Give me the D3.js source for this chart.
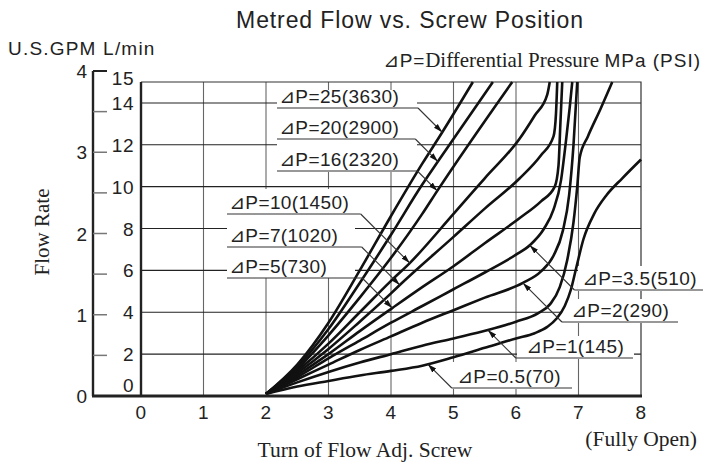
<!DOCTYPE html>
<html>
<head>
<meta charset="utf-8">
<script src="https://cdn.jsdelivr.net/npm/d3@7"></script>
<style>
  body { margin: 0; background: #fff; }
  svg { display: block; }
</style>
</head>
<body>
<div id="chart"></div>
<script>
var width = 703;
var height = 464;

// curves: [turns, L/min]
var dp25 = [[2,0.1],[2.5,1.5],[3,3.5],[3.5,6.0],[4,8.6],[4.5,11.1],[4.82,12.6],[5.31,15]];
var dp20 = [[2,0.1],[2.5,1.4],[3,3.2],[3.5,5.4],[4,7.7],[4.5,10.1],[4.75,11.2],[5.63,15]];
var dp16 = [[2,0.1],[2.5,1.3],[3,2.9],[3.5,4.7],[4,6.6],[4.5,8.7],[4.74,9.8],[5.94,15]];
var dp10 = [[2,0.1],[2.5,1.2],[3,2.5],[3.5,4.0],[4,5.5],[4.3,6.35],[5,8.7],[5.5,10.4],[6.06,12.3],[6.3,13.4],[6.5,14.4],[6.54,15]];
var dp7  = [[2,0.1],[2.5,1.1],[3,2.25],[3.5,3.55],[4,4.9],[4.14,5.3],[5,7.6],[5.5,8.95],[6.06,10.4],[6.4,11.5],[6.6,12.4],[6.64,13.5],[6.66,15]];
var dp5  = [[2,0.1],[2.5,1.0],[3,2.0],[3.5,3.1],[4.02,4.2],[4.5,5.2],[5,6.2],[5.5,7.3],[6.06,8.5],[6.4,9.3],[6.62,10.0],[6.68,11.0],[6.71,13],[6.74,15]];
var dp35 = [[2,0.1],[2.5,0.9],[3,1.8],[3.5,2.65],[4,3.5],[4.5,4.3],[5,5.1],[5.5,5.9],[6,6.75],[6.22,7.2],[6.45,8.0],[6.6,8.9],[6.72,10.3],[6.8,12.2],[6.86,13.8],[6.9,15]];
var dp2  = [[2,0.1],[2.5,0.8],[3,1.5],[3.5,2.2],[4,2.85],[4.5,3.5],[5,4.1],[5.5,4.7],[6.11,5.4],[6.4,5.95],[6.6,6.7],[6.75,7.9],[6.85,9.6],[6.92,12],[6.98,15]];
var dp1  = [[2,0.1],[2.5,0.65],[3,1.15],[3.5,1.6],[4,2.0],[4.5,2.4],[5,2.75],[5.55,3.15],[6,3.55],[6.35,3.95],[6.55,4.4],[6.7,5.2],[6.82,6.5],[6.92,8.3],[6.98,10],[7.02,11.4],[7.15,12.4],[7.35,13.7],[7.54,15]];
var dp05 = [[2,0.1],[2.5,0.45],[3,0.72],[3.5,0.98],[4,1.2],[4.5,1.45],[5,1.85],[5.5,2.3],[6,2.75],[6.3,3.0],[6.5,3.3],[6.65,3.7],[6.78,4.3],[6.88,5.1],[6.97,6.2],[7.08,7.5],[7.25,8.7],[7.45,9.6],[7.7,10.4],[8,11.3]];

var curves = [dp25, dp20, dp16, dp10, dp7, dp5, dp35, dp2, dp1, dp05];
var curveNames = ["⊿P=25(3630)", "⊿P=20(2900)", "⊿P=16(2320)", "⊿P=10(1450)", "⊿P=7(1020)",
                  "⊿P=5(730)", "⊿P=3.5(510)", "⊿P=2(290)", "⊿P=1(145)", "⊿P=0.5(70)"];
// turn where each label's arrow touches its curve
var arrowTurns = [4.82, 4.75, 4.74, 4.3, 4.14, 4.02, 6.22, 6.11, 5.55, 4.59];

var turnTicks = [0, 1, 2, 3, 4, 5, 6, 7, 8];
var lpmTicks = [0, 2, 4, 6, 8, 10, 12, 14, 15];
var lpmGrid = [2, 4, 6, 8, 10, 12, 14];
var gpmTicks = [0, 1, 2, 3, 4];
var gpmMinor = [0.5, 1, 1.5, 2, 2.5, 3, 3.5, 4];

// label layout (pixels): side, text x, underline y, underline far end
var labelLayout = [
  {side: "L", tx: 279, uy: 108, ux: 277},
  {side: "L", tx: 279, uy: 139, ux: 277},
  {side: "L", tx: 279, uy: 171, ux: 277},
  {side: "L", tx: 229, uy: 214, ux: 227},
  {side: "L", tx: 229, uy: 247, ux: 227},
  {side: "L", tx: 229, uy: 278, ux: 227},
  {side: "R", tx: 582, uy: 290, ux: 703},
  {side: "R", tx: 571, uy: 322, ux: 678},
  {side: "R", tx: 526, uy: 358, ux: 633},
  {side: "R", tx: 457, uy: 388, ux: 572}
];
// white patches behind the labels
var masks = [[277, 90, 140, 82], [227, 189, 128, 89], [578, 266, 125, 25],
             [562, 299, 118, 24], [517, 336, 117, 23], [452, 362, 120, 27]];

var sans = "'Liberation Sans', Arial, Helvetica, 'DejaVu Sans', sans-serif";
var serif = "'Liberation Serif', 'Times New Roman', serif";

var x = d3.scaleLinear().domain([0, 8]).range([141, 641]);
var y = d3.scaleLinear().domain([0, 15]).range([396, 82]);
var yg = d3.scaleLinear().domain([0, 4]).range([396, 71]);

var svg = d3.select("#chart").append("svg")
    .attr("width", width)
    .attr("height", height);

svg.append("defs").append("marker")
    .attr("id", "arrow")
    .attr("viewBox", "0 0 10 10")
    .attr("refX", 10).attr("refY", 5)
    .attr("markerWidth", 9).attr("markerHeight", 9)
    .attr("markerUnits", "userSpaceOnUse")
    .attr("orient", "auto")
  .append("path")
    .attr("d", "M0,2 L10,5 L0,8 Z")
    .attr("fill", "#111");

// grid
svg.append("g").selectAll("line").data([1, 2, 3, 4, 5, 6, 7]).enter().append("line")
    .attr("x1", d => x(d)).attr("x2", d => x(d))
    .attr("y1", y(0)).attr("y2", y(15))
    .attr("stroke", "#666").attr("stroke-width", 1.1);
svg.append("g").selectAll("line").data(lpmGrid).enter().append("line")
    .attr("x1", x(0)).attr("x2", x(8))
    .attr("y1", d => y(d)).attr("y2", d => y(d))
    .attr("stroke", "#222").attr("stroke-width", 1.1);
svg.append("path")
    .attr("d", "M" + x(0) + "," + y(15) + "H" + x(8) + "V" + y(0))
    .attr("fill", "none").attr("stroke", "#333").attr("stroke-width", 1.2);

// masks behind labels
svg.append("g").selectAll("rect").data(masks).enter().append("rect")
    .attr("x", d => d[0]).attr("y", d => d[1])
    .attr("width", d => d[2]).attr("height", d => d[3])
    .attr("fill", "#fff");

// curves
var line = d3.line()
    .x(d => x(d[0]))
    .y(d => y(d[1]))
    .curve(d3.curveMonotoneX);
svg.append("g").selectAll("path").data(curves).enter().append("path")
    .attr("d", line)
    .attr("fill", "none")
    .attr("stroke", "#111")
    .attr("stroke-width", 2.6)
    .attr("stroke-linejoin", "round");

// axes
svg.append("line").attr("x1", x(0)).attr("x2", x(0)).attr("y1", y(15)).attr("y2", y(0))
    .attr("stroke", "#222").attr("stroke-width", 2.4);
svg.append("line").attr("x1", 93).attr("x2", 93).attr("y1", yg(4)).attr("y2", y(0))
    .attr("stroke", "#222").attr("stroke-width", 2.4);
svg.append("line").attr("x1", 92).attr("x2", x(8) + 1).attr("y1", y(0)).attr("y2", y(0))
    .attr("stroke", "#222").attr("stroke-width", 3);
svg.append("g").selectAll("line").data(gpmMinor).enter().append("line")
    .attr("x1", 93).attr("x2", 107)
    .attr("y1", d => yg(d)).attr("y2", d => yg(d))
    .attr("stroke", d => d === 4 ? "#222" : "#777")
    .attr("stroke-width", d => d === 4 ? 2 : 1.5);

// tick labels
svg.append("g").selectAll("text").data(turnTicks).enter().append("text")
    .attr("x", d => x(d)).attr("y", 419)
    .attr("text-anchor", "middle")
    .style("font-family", sans).style("font-size", "19px").style("letter-spacing", "0.5px")
    .attr("fill", "#222")
    .text(d => d);
svg.append("g").selectAll("text").data(lpmTicks).enter().append("text")
    .attr("x", 134)
    .attr("y", d => d === 0 ? y(0) - 4 : (d === 15 ? y(d) + 3 : y(d) + 7))
    .attr("text-anchor", "end")
    .style("font-family", sans).style("font-size", "19px").style("letter-spacing", "0.5px")
    .attr("fill", "#222")
    .text(d => d);
svg.append("g").selectAll("text").data(gpmTicks).enter().append("text")
    .attr("x", 87)
    .attr("y", d => yg(d) + 7)
    .attr("text-anchor", "end")
    .style("font-family", sans).style("font-size", "19px")
    .attr("fill", "#222")
    .text(d => d);

// titles
svg.append("text").attr("x", 410).attr("y", 28).attr("text-anchor", "middle")
    .style("font-family", sans).style("font-size", "23px").style("letter-spacing", "0.9px")
    .attr("fill", "#222")
    .text("Metred Flow vs. Screw Position");
svg.append("text").attr("x", 8).attr("y", 55)
    .style("font-family", sans).style("font-size", "19px").style("letter-spacing", "1.2px")
    .attr("fill", "#222")
    .text("U.S.GPM  L/min");
svg.append("text")
    .attr("transform", "translate(49,232) rotate(-90)")
    .attr("text-anchor", "middle")
    .style("font-family", serif).style("font-size", "21px")
    .attr("fill", "#222")
    .text("Flow Rate");
svg.append("text").attr("x", 365).attr("y", 457).attr("text-anchor", "middle")
    .style("font-family", serif).style("font-size", "21.5px")
    .attr("fill", "#222")
    .text("Turn of Flow Adj. Screw");
svg.append("text").attr("x", 697).attr("y", 446).attr("text-anchor", "end")
    .style("font-family", serif).style("font-size", "21.5px")
    .attr("fill", "#222")
    .text("(Fully Open)");

var legendTitle = svg.append("text").attr("x", 701).attr("y", 67).attr("text-anchor", "end")
    .attr("fill", "#222");
legendTitle.append("tspan").style("font-family", sans).style("font-size", "19px")
    .style("letter-spacing", "0.8px").text("⊿P=");
legendTitle.append("tspan").style("font-family", serif).style("font-size", "21px")
    .text("Differential Pressure ");
legendTitle.append("tspan").style("font-family", sans).style("font-size", "19px")
    .style("letter-spacing", "1px").text("MPa (PSI)");

// labels with leaders
function flowAt(pts, t) {
  for (var i = 1; i < pts.length; i++) {
    if (t <= pts[i][0]) {
      var a = pts[i - 1], b = pts[i];
      return a[1] + (b[1] - a[1]) * (t - a[0]) / (b[0] - a[0]);
    }
  }
  return pts[pts.length - 1][1];
}

var labels = svg.append("g").selectAll("g").data(curveNames).enter().append("g");
labels.each(function(name, i) {
  var g = d3.select(this);
  var lay = labelLayout[i];
  var tipX = x(arrowTurns[i]);
  var tipY = y(flowAt(curves[i], arrowTurns[i]));
  var knee = lay.side === "L" ? tipX - (tipY - lay.uy) : tipX + (lay.uy - tipY);
  var x0 = lay.side === "L" ? lay.ux : knee;
  var x1 = lay.side === "L" ? knee : lay.ux;
  g.append("line")
      .attr("x1", x0).attr("x2", x1).attr("y1", lay.uy).attr("y2", lay.uy)
      .attr("stroke", "#333").attr("stroke-width", 1.2);
  g.append("line")
      .attr("x1", knee).attr("y1", lay.uy).attr("x2", tipX).attr("y2", tipY)
      .attr("stroke", "#333").attr("stroke-width", 1.1)
      .attr("marker-end", "url(#arrow)");
  g.append("text")
      .attr("x", lay.tx).attr("y", lay.uy - 5)
      .style("font-family", sans).style("font-size", "19px").style("letter-spacing", "0.4px")
      .attr("fill", "#222")
      .text(name);
});
</script>
</body>
</html>
